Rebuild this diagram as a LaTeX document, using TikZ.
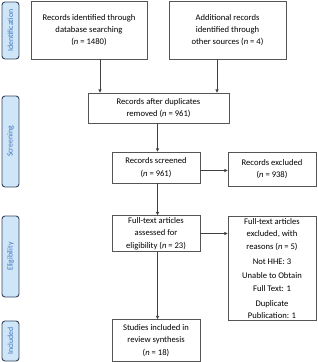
\documentclass[tikz,border=0pt]{standalone}
\usepackage{fontspec}
\setmainfont{Carlito}
\usetikzlibrary{arrows.meta,positioning,calc}
\definecolor{tabfill}{RGB}{207,230,248}
\definecolor{tabline}{RGB}{55,70,95}
\definecolor{tabtext}{RGB}{70,115,190}
\definecolor{boxline}{RGB}{85,85,85}
\newcommand{\nn}[1]{(\textit{n} = #1)}
\tikzset{
  flowbox/.style={draw=boxline, line width=0.8pt, fill=white, align=center,
    inner sep=2pt, font=\fontsize{8.6}{12.3}\selectfont},
  stagetab/.style={draw=tabline, line width=0.9pt, rounded corners=3pt, fill=tabfill,
    minimum height=17pt, text=tabtext, rotate=90, inner sep=1pt,
    font=\fontsize{7.8}{9}\selectfont},
  arr/.style={-{Triangle[length=3.2pt,width=3pt]}, draw=black!75, line width=0.7pt}
}
\begin{document}
\begin{tikzpicture}[x=1pt,y=-1pt]
  \useasboundingbox (0,0) rectangle (317,362);

  \node[stagetab, minimum width=57pt] (tid) at (10.5,30.5) {Identification};
  \node[stagetab, minimum width=91pt] (tscr) at (10.5,141.5) {Screening};
  \node[stagetab, minimum width=81pt] (telig) at (10.5,256.5) {Eligibility};
  \node[stagetab, minimum width=40pt] (tinc) at (10.5,341) {Included};

  \node[flowbox, minimum width=116pt, minimum height=58pt] (dbrec) at (89,30) {Records identified through\\database searching\\\nn{1480}};
  \node[flowbox, minimum width=117pt, minimum height=58pt] (othrec) at (227.5,30) {Additional records\\identified through\\other sources \nn{4}};
  \node[flowbox, minimum width=141pt, minimum height=30pt] (dedup) at (158.5,108) {Records after duplicates\\removed \nn{961}};
  \node[flowbox, minimum width=88pt, minimum height=31pt] (screen) at (156,167.5) {Records screened\\\nn{961}};
  \node[flowbox, minimum width=88pt, minimum height=34pt] (excl) at (272,169) {Records excluded\\\nn{938}};
  \node[flowbox, minimum width=88pt, minimum height=33pt] (fulltext) at (156,233.5) {Full-text articles\\assessed for\\eligibility \nn{23}};
  \node[flowbox, minimum width=88pt, minimum height=103pt] (ftexcl) at (272,268.5) {Full-text articles\\excluded, with\\reasons \nn{5}\\[2.6pt]Not HHE: 3\\[2.6pt]Unable to Obtain\\Full Text: 1\\[2.6pt]Duplicate\\Publication: 1};
  \node[flowbox, minimum width=88pt, minimum height=42pt] (incl) at (156,340.5) {Studies included in\\review synthesis\\\nn{18}};

  \draw[arr] ([xshift=11pt]dbrec.south) -- ([xshift=11pt]dbrec.south |- dedup.north);
  \draw[arr] ([xshift=-10.5pt]othrec.south) -- ([xshift=-10.5pt]othrec.south |- dedup.north);
  \draw[arr] ([xshift=1.5pt]screen.north |- dedup.south) -- ([xshift=1.5pt]screen.north);
  \draw[arr] ([xshift=1.5pt]screen.south) -- ([xshift=1.5pt]fulltext.north);
  \draw[arr] ([xshift=1.5pt]fulltext.south) -- ([xshift=1.5pt]incl.north);
  \draw[arr] ([yshift=-3pt]screen.east) -- ([yshift=-3pt]screen.east -| excl.west);
  \draw[arr] (fulltext.east) -- (fulltext.east -| ftexcl.west);
\end{tikzpicture}
\end{document}
